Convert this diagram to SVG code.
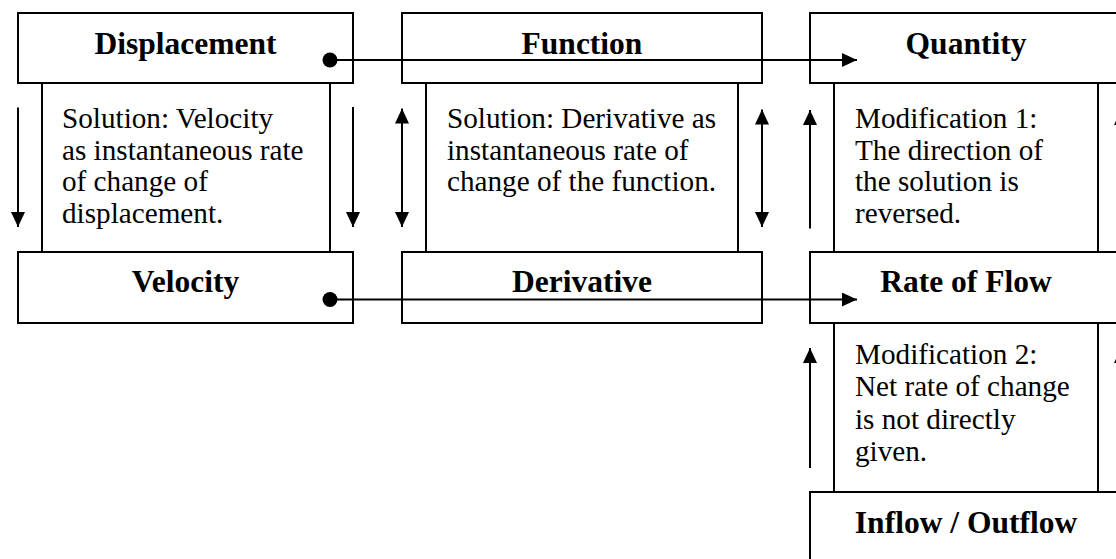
<svg xmlns="http://www.w3.org/2000/svg" width="1116" height="559" viewBox="0 0 1116 559">
<style>
.box{fill:#fff;stroke:#000;stroke-width:2}
.inner{fill:#fff;stroke:#000;stroke-width:2}
.title{font-family:"Liberation Serif","Times New Roman",serif;font-weight:bold;font-size:31.5px;text-anchor:middle;fill:#000}
.body{font-family:"Liberation Serif","Times New Roman",serif;font-size:29.2px;fill:#000}
.ln{stroke:#000;stroke-width:2;fill:none}
</style>
<defs>
<marker id="arr" viewBox="0 0 15 14" refX="15" refY="7" markerWidth="15" markerHeight="14" markerUnits="userSpaceOnUse" orient="auto-start-reverse">
<path d="M0,0 L15,7 L0,14 Z" fill="#000"/>
</marker>
</defs>
<rect width="1116" height="559" fill="#fff"/>
<g id="sol1">
<rect class="inner" x="42" y="83" width="288" height="169"/>
<text class="body" x="62" y="128">Solution: Velocity</text>
<text class="body" x="62" y="159.7">as instantaneous rate</text>
<text class="body" x="62" y="191.3">of change of</text>
<text class="body" x="62" y="223">displacement.</text>
</g>
<g id="sol2">
<rect class="inner" x="426" y="83" width="312" height="169"/>
<text class="body" x="447" y="128">Solution: Derivative as</text>
<text class="body" x="447" y="159.7">instantaneous rate of</text>
<text class="body" x="447" y="191.3">change of the function.</text>
</g>
<g id="mod1">
<rect class="inner" x="834" y="83" width="264" height="169"/>
<text class="body" x="855" y="128">Modification 1:</text>
<text class="body" x="855" y="159.7">The direction of</text>
<text class="body" x="855" y="191.3">the solution is</text>
<text class="body" x="855" y="223">reversed.</text>
</g>
<g id="mod2">
<rect class="inner" x="834" y="323" width="264" height="169"/>
<text class="body" x="855" y="364">Modification 2:</text>
<text class="body" x="855" y="396.3">Net rate of change</text>
<text class="body" x="855" y="428.7">is not directly</text>
<text class="body" x="855" y="461">given.</text>
</g>
<g id="displacement">
<rect class="box" x="18" y="13" width="335" height="70"/>
<text class="title" x="185.5" y="53.5">Displacement</text>
</g>
<g id="function">
<rect class="box" x="402" y="13" width="360" height="70"/>
<text class="title" x="582" y="53.5">Function</text>
</g>
<g id="quantity">
<rect class="box" x="810" y="13" width="312" height="70"/>
<text class="title" x="966" y="53.5">Quantity</text>
</g>
<g id="velocity">
<rect class="box" x="18" y="252" width="335" height="71"/>
<text class="title" x="185.5" y="292">Velocity</text>
</g>
<g id="derivative">
<rect class="box" x="402" y="252" width="360" height="71"/>
<text class="title" x="582" y="292">Derivative</text>
</g>
<g id="rateofflow">
<rect class="box" x="810" y="252" width="312" height="71"/>
<text class="title" x="966" y="292">Rate of Flow</text>
</g>
<g id="inflow">
<rect class="box" x="810" y="492" width="312" height="80"/>
<text class="title" x="966" y="533">Inflow / Outflow</text>
</g>
<g id="connectors">
<circle cx="330" cy="60" r="7.5" fill="#000"/>
<line class="ln" x1="330" y1="60" x2="857" y2="60" marker-end="url(#arr)"/>
<circle cx="330" cy="299.5" r="7.5" fill="#000"/>
<line class="ln" x1="330" y1="299.5" x2="857" y2="299.5" marker-end="url(#arr)"/>
<line class="ln" x1="18" y1="107.5" x2="18" y2="227" marker-end="url(#arr)"/>
<line class="ln" x1="353" y1="107" x2="353" y2="227" marker-end="url(#arr)"/>
<line class="ln" x1="402" y1="108.5" x2="402" y2="227" marker-start="url(#arr)" marker-end="url(#arr)"/>
<line class="ln" x1="762" y1="109.5" x2="762" y2="227" marker-start="url(#arr)" marker-end="url(#arr)"/>
<line class="ln" x1="810" y1="110" x2="810" y2="228.5" marker-start="url(#arr)"/>
<line class="ln" x1="810" y1="348" x2="810" y2="468" marker-start="url(#arr)"/>
<line class="ln" x1="1121" y1="110" x2="1121" y2="228.5" marker-start="url(#arr)"/>
<line class="ln" x1="1121" y1="348" x2="1121" y2="468" marker-start="url(#arr)"/>
</g>
</svg>
